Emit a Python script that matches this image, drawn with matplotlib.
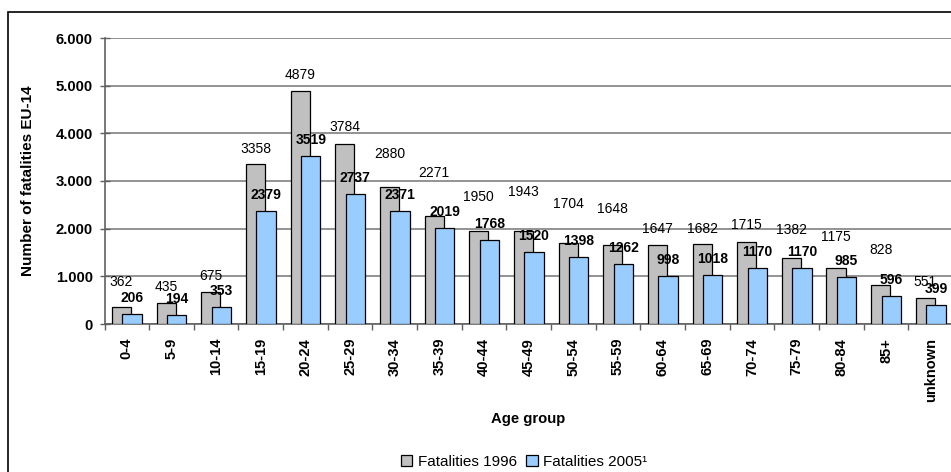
import matplotlib
matplotlib.use("Agg")
import matplotlib.pyplot as plt
from matplotlib.patches import Rectangle
import numpy as np

# Road fatalities in EU-14 by age group
age_groups = ["0-4", "5-9", "10-14", "15-19", "20-24", "25-29", "30-34", "35-39",
              "40-44", "45-49", "50-54", "55-59", "60-64", "65-69", "70-74", "75-79",
              "80-84", "85+", "unknown"]
fatalities_1996 = [362, 435, 675, 3358, 4879, 3784, 2880, 2271, 1950, 1943, 1704,
                   1648, 1647, 1682, 1715, 1382, 1175, 828, 551]
fatalities_2005 = [206, 194, 353, 2379, 3519, 2737, 2371, 2019, 1768, 1520, 1398,
                   1262, 998, 1018, 1170, 1170, 985, 596, 399]
y_ticks = [0, 1000, 2000, 3000, 4000, 5000, 6000]
y_tick_labels = ["0", "1.000", "2.000", "3.000", "4.000", "5.000", "6.000"]
series_names = ["Fatalities 1996", "Fatalities 2005\u00b9"]

# label lift above the bar top, in pixels (1996 labels were shifted by hand)
lift_1996 = [25, 16.6, 16, 15, 16.4, 16.6, 32.7, 43, 34, 39, 38.5, 36, 16, 15, 17,
             28, 30.7, 35, 16]
lift_2005 = 16

W, H = 951, 472
DPI = 100
plt.rcParams["font.family"] = ["Liberation Sans", "DejaVu Sans"]

fig = plt.figure(figsize=(W / DPI, H / DPI), dpi=DPI)
fig.patch.set_facecolor("white")

# outer chart frame (runs past the right and bottom edges)
fig.patches.append(Rectangle((8 / W, -0.2), 2.0, 1 - 12 / H + 0.2,
                             transform=fig.transFigure, fill=False,
                             edgecolor="black", linewidth=1.2, zorder=0))

x0, x1 = 104.5, 953.0
y_top, y_bot = 38.0, 324.0
ax = fig.add_axes([x0 / W, 1 - y_bot / H, (x1 - x0) / W, (y_bot - y_top) / H])

x = np.arange(len(age_groups))
bw = 0.43
off = 0.118
gray = "#C0C0C0"
blue = "#99CCFF"

ax.bar(x - off, fatalities_1996, width=bw, color=gray, edgecolor="black",
       linewidth=0.9, zorder=3)
ax.bar(x + off, fatalities_2005, width=bw, color=blue, edgecolor="black",
       linewidth=0.9, zorder=4)

px2pt = 72.0 / DPI
for i, (a, b) in enumerate(zip(fatalities_1996, fatalities_2005)):
    ax.annotate(str(a), (x[i] - off, a), xytext=(0, lift_1996[i] * px2pt),
                textcoords="offset points", ha="center", va="center",
                fontsize=10, color="black", zorder=6)
    ax.annotate(str(b), (x[i] + off, b), xytext=(0, lift_2005 * px2pt),
                textcoords="offset points", ha="center", va="center",
                fontsize=10, fontweight="bold", color="black", zorder=7)

ax.set_xlim(-0.5, len(age_groups) - 0.5)
ax.set_ylim(0, 6000)

ax.set_yticks(y_ticks)
ax.set_yticklabels(y_tick_labels, fontsize=10.7, fontweight="bold")
ax.tick_params(axis="y", direction="inout", length=7, width=1.0,
               color="#606060", pad=5)

# ticks on category boundaries, labels at category centres
ax.set_xticks(np.arange(len(age_groups) + 1) - 0.5)
ax.set_xticklabels([])
ax.tick_params(axis="x", which="major", direction="out", length=4, width=1.0,
               color="#606060")
ax.set_xticks(x, minor=True)
ax.set_xticklabels(age_groups, minor=True, rotation=90, fontsize=10.5,
                   fontweight="bold", va="top", ha="center")
ax.tick_params(axis="x", which="minor", length=0, pad=10)

ax.yaxis.grid(True, color="#808080", linewidth=1.2, zorder=0)
ax.set_axisbelow(True)
for s in ("top", "right"):
    ax.spines[s].set_visible(False)
for s in ("left", "bottom"):
    ax.spines[s].set_color("#606060")
    ax.spines[s].set_linewidth(1.2)

ax.set_ylabel("Number of fatalities EU-14", fontsize=11, fontweight="bold")
ax.yaxis.set_label_coords((35 - x0) / (x1 - x0), 0.5)

fig.text(528.6 / W, 1 - 419 / H, "Age group", ha="center", va="center",
         fontsize=10.7, fontweight="bold")

handles = [Rectangle((0, 0), 1, 1, facecolor=gray, edgecolor="black", linewidth=0.9),
           Rectangle((0, 0), 1, 1, facecolor=blue, edgecolor="black", linewidth=0.9)]
fig.legend(handles, series_names, loc="center", bbox_to_anchor=(524 / W, 1 - 461.5 / H),
           ncol=2, frameon=False, fontsize=11, handlelength=0.75, handleheight=0.75,
           handletextpad=0.35, columnspacing=0.6, borderpad=0)

fig.savefig("out.png", dpi=DPI)
